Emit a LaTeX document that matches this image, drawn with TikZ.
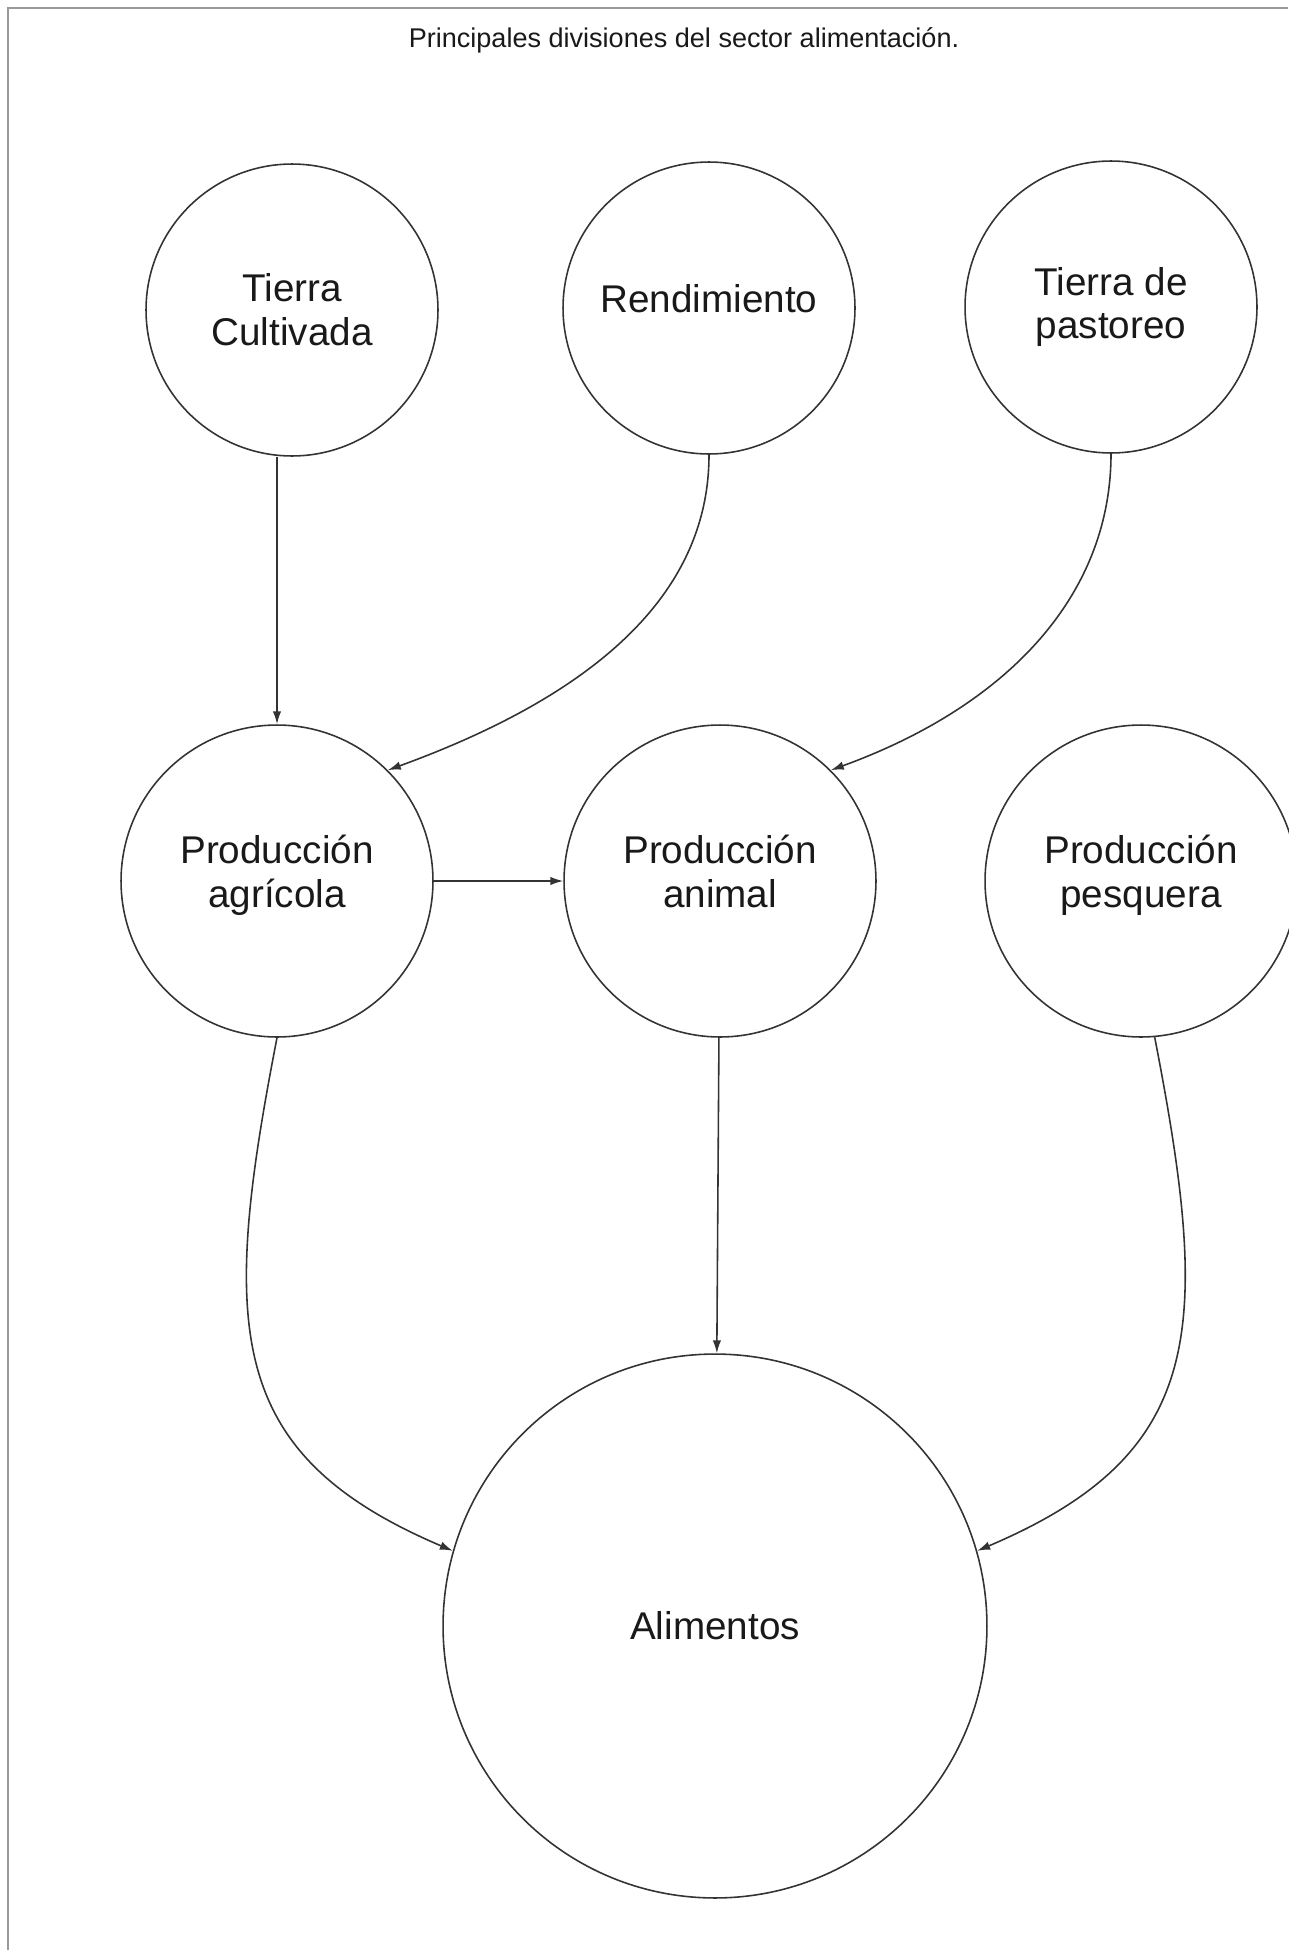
\documentclass[tikz,border=0pt]{standalone}
\usepackage{fontspec}
\setmainfont{Liberation Sans}
\usetikzlibrary{arrows.meta}

\definecolor{linegray}{HTML}{333333}
\definecolor{framegray}{HTML}{9A9A9A}

\tikzset{
	vertex/.style={circle,draw=linegray,line width=0.9pt,inner sep=0pt,align=center,text=black!90,
		font=\fontsize{22}{25}\selectfont},
	lifted/.style={text depth=0.4cm},
	edge/.style={draw=linegray,line width=0.9pt,-{Latex[length=2.6mm,width=1.7mm]}},
}

\begin{document}
\begin{tikzpicture}[x=0.02cm,y=-0.02cm]
	\useasboundingbox (0,0) rectangle (1288,1950);
	\draw[framegray,line width=1.4pt] (8,1950) -- (8,8) -- (1288,8);
	\node[font=\fontsize{15.4}{18}\selectfont,text=black!90] (title) at (684,40) {Principales divisiones del sector alimentación.};
	\node[vertex,minimum size=5.84cm] (tc) at (292,310) {Tierra\\Cultivada};
	\node[vertex,lifted,minimum size=5.84cm] (rend) at (709,308) {Rendimiento};
	\node[vertex,minimum size=5.84cm] (past) at (1111,307) {Tierra de\\pastoreo};
	\node[vertex,lifted,minimum size=6.24cm] (agr) at (277,881) {Producción\\agrícola};
	\node[vertex,lifted,minimum size=6.24cm] (anim) at (720,881) {Producción\\animal};
	\node[vertex,lifted,minimum size=6.24cm] (pesq) at (1141,881) {Producción\\pesquera};
	\node[vertex,minimum size=10.88cm] (alim) at (715,1626) {Alimentos};
	\draw[edge] (agr.north |- tc.south) -- (agr.north);
	\draw[edge] (rend.south) to[out=-90,in=20,out looseness=0.85,in looseness=1.15] (agr.45);
	\draw[edge] (past.south) to[out=-90,in=20,out looseness=0.85,in looseness=1.15] (anim.45);
	\draw[edge] (agr) -- (anim);
	\draw[edge] (anim) -- (alim);
	\draw[edge] (agr.south) to[out=-101,in=157,out looseness=1.4,in looseness=1.17] (alim.164);
	\draw[edge] (pesq.-85) to[out=-79,in=23,out looseness=1.4,in looseness=1.17] (alim.16);
\end{tikzpicture}
\end{document}
